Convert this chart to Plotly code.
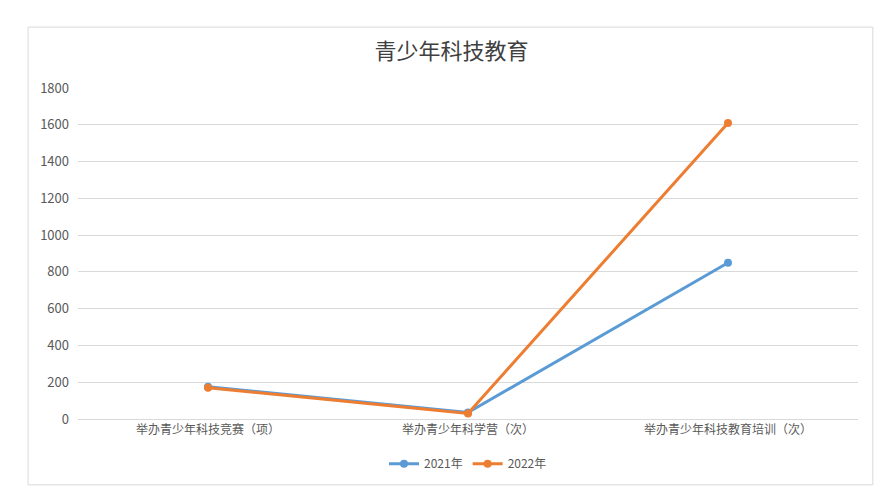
import plotly.graph_objects as go

categories = ["举办青少年科技竞赛（项）", "举办青少年科学营（次）", "举办青少年科技教育培训（次）"]
v2021 = [175, 35, 850]
v2022 = [170, 30, 1610]

font = "Noto Sans CJK SC"
fig = go.Figure()
fig.add_trace(go.Scatter(x=categories, y=v2021, name="2021年", mode="lines+markers",
                         line=dict(color="#5B9BD5", width=3), marker=dict(size=8)))
fig.add_trace(go.Scatter(x=categories, y=v2022, name="2022年", mode="lines+markers",
                         line=dict(color="#ED7D31", width=3), marker=dict(size=8)))

fig.update_layout(
    width=887, height=493,
    paper_bgcolor="white", plot_bgcolor="white",
    margin=dict(l=70, r=37, t=80, b=82, autoexpand=False),
    title=dict(text="青少年科技教育", x=0.5, y=0.913, xanchor="center", yanchor="middle",
               font=dict(family=font, size=22, color="#404040")),
    font=dict(family=font, color="#595959"),
    legend=dict(orientation="h", x=0.5, xanchor="center", y=-0.135, yanchor="middle",
                font=dict(size=12)),
    yaxis=dict(range=[0, 1800], dtick=200, gridcolor="#D9D9D9", zeroline=False,
               showline=False, tickfont=dict(size=13), ticklabelstandoff=8, automargin=False),
    xaxis=dict(range=[-0.5, 2.5], showline=True, linecolor="#D9D9D9",
               tickfont=dict(size=12), automargin=False),
    shapes=[dict(type="rect", xref="paper", yref="paper", x0=-0.064, x1=1.019,
                 y0=-0.199, y1=1.184, line=dict(color="#D9D9D9", width=1))],
)
fig.write_html("out.html")
